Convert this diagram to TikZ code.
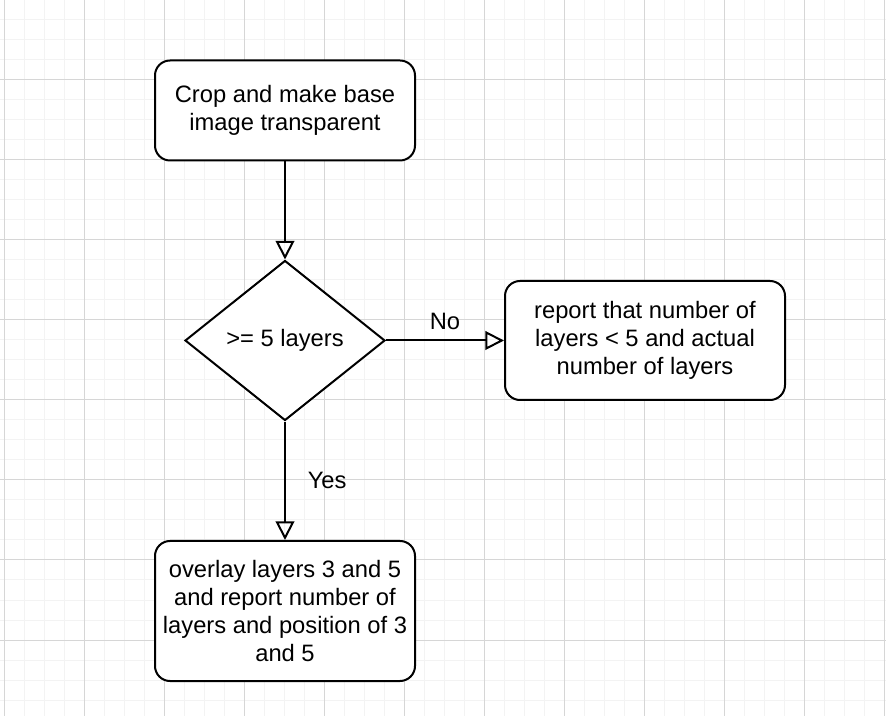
\documentclass[tikz,border=0pt]{standalone}
\usepackage{fontspec}
\setmainfont{Liberation Sans}
\usepackage{tikz}
\usetikzlibrary{arrows.meta, shapes.geometric, positioning}

\definecolor{gridminor}{HTML}{F3F3F3}
\definecolor{gridmajor}{HTML}{D6D6D6}

\begin{document}
\begin{tikzpicture}[x=0.75pt, y=-0.75pt,
    txt/.style={font=\fontsize{17.8}{21}\selectfont},
    box/.style={draw, line width=1.5pt, rounded corners=11.25pt, fill=white, align=center, inner sep=0pt, txt},
    dec/.style={draw, line width=1.5pt, diamond, fill=white, align=center, inner sep=0pt, txt},
    flow/.style={line width=1.5pt, -{Triangle[open, length=14pt, width=14pt]}}
  ]
    \useasboundingbox (0,0) rectangle (886,716);
    \fill[white] (0,0) rectangle (886,716);
    \foreach \x in {4,24,...,884}
        \draw[gridminor, line width=0.75pt] (\x,0) -- (\x,716);
    \foreach \y in {0,20,...,700}
        \draw[gridminor, line width=0.75pt] (0,\y) -- (886,\y);
    \foreach \x in {4,84,...,884}
        \draw[gridmajor, line width=0.75pt] (\x,0) -- (\x,716);
    \foreach \y in {0,80,...,700}
        \draw[gridmajor, line width=0.75pt] (0,\y) -- (886,\y);

    \node[box, minimum width=195pt, minimum height=75pt] (crop) at (285,110.5)
        {Crop and make base\\image transparent};
    \node[dec, minimum width=150pt, minimum height=120pt] (check) at (285,340.5)
        {>= 5 layers};
    \node[box, minimum width=210pt, minimum height=89.25pt] (few) at (645,340.5)
        {report that number of\\layers < 5 and actual\\number of layers};
    \node[box, minimum width=195pt, minimum height=105pt] (overlay) at (285,611)
        {overlay layers 3 and 5\\and report number of\\layers and position of 3\\and 5};

    \draw[flow] (crop) -- (check);
    \draw[flow] (check) -- node[above=4pt, txt] {No} (few);
    \draw[flow] (check) -- node[right=13pt, txt] {Yes} (overlay);
\end{tikzpicture}
\end{document}
